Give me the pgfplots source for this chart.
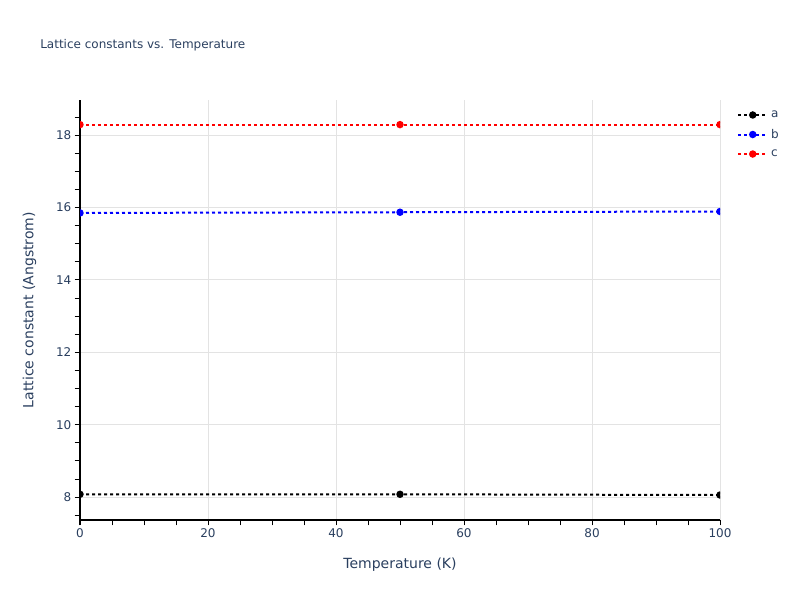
\documentclass[border=0pt]{standalone}
\usepackage{pgfplots}
\pgfplotsset{compat=1.18}
\usepackage{fontspec}
\setmainfont{DejaVu Sans}
\definecolor{fontc}{HTML}{2A3F5F}
\definecolor{gridc}{HTML}{E3E3E3}
\begin{document}
\begin{tikzpicture}[x=1pt,y=1pt]
\path[use as bounding box] (0,0) rectangle (600,450);
\node[anchor=west,font=\fontsize{9}{11}\selectfont,text=fontc,inner sep=0] at (30,416) {Lattice constants vs. Temperature};
\begin{axis}[
  at={(60pt,60pt)}, anchor=south west,
  scale only axis, width=480pt, height=315pt,
  xmin=0, xmax=100, ymin=7.37, ymax=18.97,
  xtick={0,20,...,100}, ytick={8,10,...,18},
  minor xtick={0,5,...,100}, minor ytick={7.5,8,...,18.5},
  grid=major, major grid style={gridc, line width=0.75pt},
  minor grid style={draw=none},
  axis x line*=bottom, axis y line*=left,
  axis line style={black, line width=0.75pt, -},
  major tick length=0pt, minor tick length=4pt,
  tick align=outside,
  minor tick style={black, line width=0.75pt},
  every tick label/.append style={font=\fontsize{9}{11}\selectfont, text=fontc},
  /pgf/number format/assume math mode=true,
  xticklabel style={yshift=-3pt}, yticklabel style={xshift=-3pt},
  xlabel={Temperature (K)}, ylabel={Lattice constant (Angstrom)},
  label style={font=\fontsize{10.5}{12}\selectfont, text=fontc},
  xlabel style={yshift=-8pt},
  ylabel style={yshift=8pt},
  legend style={at={(1.02,0.988)}, anchor=north west, draw=none, fill=none,
    font=\fontsize{9}{11}\selectfont, text=fontc, row sep=3.2pt},
  legend cell align=left,
  legend image code/.code={\draw[#1] (0pt,0pt) -- (22pt,0pt); \draw[#1, solid] plot coordinates {(11pt,0pt)};},
  clip mode=individual, clip marker paths=true,
]
\addplot[black, line width=1.5pt, dash pattern=on 2.25pt off 2.25pt, mark=*, mark size=2pt, mark options={solid}]
 coordinates {(0,8.08) (50,8.08) (100,8.06)};
\addlegendentry{a}
\addplot[blue, line width=1.5pt, dash pattern=on 2.25pt off 2.25pt, mark=*, mark size=2pt, mark options={solid}]
 coordinates {(0,15.85) (50,15.87) (100,15.89)};
\addlegendentry{b}
\addplot[red, line width=1.5pt, dash pattern=on 2.25pt off 2.25pt, mark=*, mark size=2pt, mark options={solid}]
 coordinates {(0,18.29) (50,18.29) (100,18.29)};
\addlegendentry{c}
\end{axis}
\end{tikzpicture}
\end{document}
